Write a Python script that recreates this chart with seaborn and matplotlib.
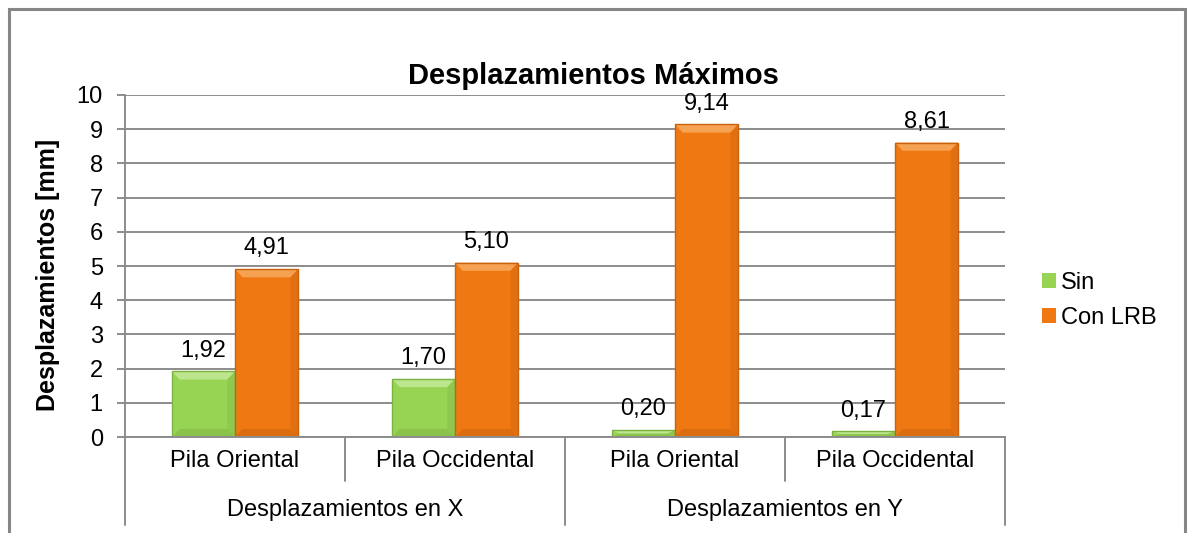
import pandas as pd
import matplotlib
matplotlib.use("Agg")
import matplotlib.pyplot as plt
import seaborn as sns
from matplotlib.patches import Rectangle, Polygon

# data
grupos = ["Desplazamientos en X", "Desplazamientos en Y"]
pilas = ["Pila Oriental", "Pila Occidental"]
series = ["Sin", "Con LRB"]
sin_vals = [1.92, 1.70, 0.20, 0.17]
con_vals = [4.91, 5.10, 9.14, 8.61]
y_ticks = [0, 1, 2, 3, 4, 5, 6, 7, 8, 9, 10]

# unique keys so repeated pila names stay separate categories
claves = [f"{g}|{p}" for g in grupos for p in pilas]
etiquetas = [k.split("|")[1] for k in claves]

df = pd.DataFrame({
    "clave": claves * 2,
    "serie": [series[0]] * 4 + [series[1]] * 4,
    "valor": sin_vals + con_vals,
})

sns.set_theme(style="white")
plt.rcParams["font.family"] = ["Liberation Sans", "DejaVu Sans"]
plt.rcParams["text.color"] = "black"
plt.rcParams["axes.labelcolor"] = "black"

colores = {"Sin": "#98D454", "Con LRB": "#F07812"}
claros = {"Sin": "#BCE58E", "Con LRB": "#F6A253"}
oscuros = {"Sin": "#7DB243", "Con LRB": "#C8620E"}
gris = "#8C8C8C"

fig = plt.figure(figsize=(11.87, 5.33), dpi=100)
ax = fig.add_axes([0.1053, 0.180, 0.7414, 0.6418])

sns.barplot(data=df, x="clave", y="valor", hue="serie", order=claves,
            hue_order=series, palette=colores, width=0.573, ax=ax,
            saturation=1, edgecolor="none", linewidth=0)

ax.set_xlim(-0.5, 3.5)
ax.set_ylim(0, 10)
ax.set_yticks(y_ticks)
ax.set_yticklabels([str(t) for t in y_ticks])
ax.set_xticks(range(len(claves)))
ax.set_xticklabels(etiquetas)
ax.set_xlabel("")
ax.set_ylabel("Desplazamientos [mm]", fontsize=18, fontweight="bold")
ax.yaxis.set_label_coords(-0.074, 0.474)

ax.yaxis.grid(True, color=gris, lw=1.4)
ax.set_axisbelow(True)
for s in ["top", "right"]:
    ax.spines[s].set_visible(False)
for s in ["left", "bottom"]:
    ax.spines[s].set_color(gris)
    ax.spines[s].set_linewidth(1.4)
ax.tick_params(axis="y", left=True, length=6, width=1.4, color=gris,
               pad=10, labelsize=17, labelcolor="black")
ax.tick_params(axis="x", length=0, pad=9, labelsize=17, labelcolor="black")

# bevel look on each bar
bx = 0.035
for cont, serie in zip(ax.containers, series):
    for p in cont.patches:
        x0, w, h = p.get_x(), p.get_width(), p.get_height()
        x1 = x0 + w
        by = min(0.24, h / 2)
        ax.add_patch(Polygon([(x0, h), (x1, h), (x1 - bx, h - by), (x0 + bx, h - by)],
                             closed=True, fc=claros[serie], ec="none", zorder=2.1))
        ax.add_patch(Polygon([(x0, 0), (x1, 0), (x1 - bx, by), (x0 + bx, by)],
                             closed=True, fc=oscuros[serie], ec="none", alpha=0.5, zorder=2.1))
        ax.add_patch(Polygon([(x1, 0), (x1, h), (x1 - bx, h - by), (x1 - bx, by)],
                             closed=True, fc=oscuros[serie], ec="none", alpha=0.35, zorder=2.1))
        ax.add_patch(Rectangle((x0, 0), w, h, fill=False, ec=oscuros[serie],
                               lw=1, zorder=2.2))
    ax.bar_label(cont, labels=[f"{v:.2f}".replace(".", ",") for v in cont.datavalues],
                 padding=7, fontsize=17, color="black")

# two-level category axis: separators and group labels
trans = ax.get_xaxis_transform()
for i in range(len(claves) + 1):
    borde = i - 0.5
    fondo = -0.257 if i % 2 == 0 else -0.1287
    ax.plot([borde, borde], [0, fondo], color=gris, lw=1.4, transform=trans,
            clip_on=False)
for j, g in enumerate(grupos):
    ax.text(2 * j + 0.5, -0.2135, g, transform=trans, ha="center", va="center",
            fontsize=17, color="black")

# legend
handles, labels = ax.get_legend_handles_labels()
ax.legend(handles, labels, loc="center left", bbox_to_anchor=(0.860, 0.436),
          bbox_transform=fig.transFigure, frameon=False, fontsize=17,
          handlelength=0.6, handleheight=0.6, handletextpad=0.2, labelspacing=0.55)

fig.text(0.500, 0.858, "Desplazamientos Máximos", ha="center", va="center",
         fontsize=21, fontweight="bold", color="black")

fig.patches.append(Rectangle((0.0076, -0.1), 0.9907, 1.083, transform=fig.transFigure,
                             fill=False, ec="#868686", lw=2.2))

fig.savefig("out.png", dpi=100)
